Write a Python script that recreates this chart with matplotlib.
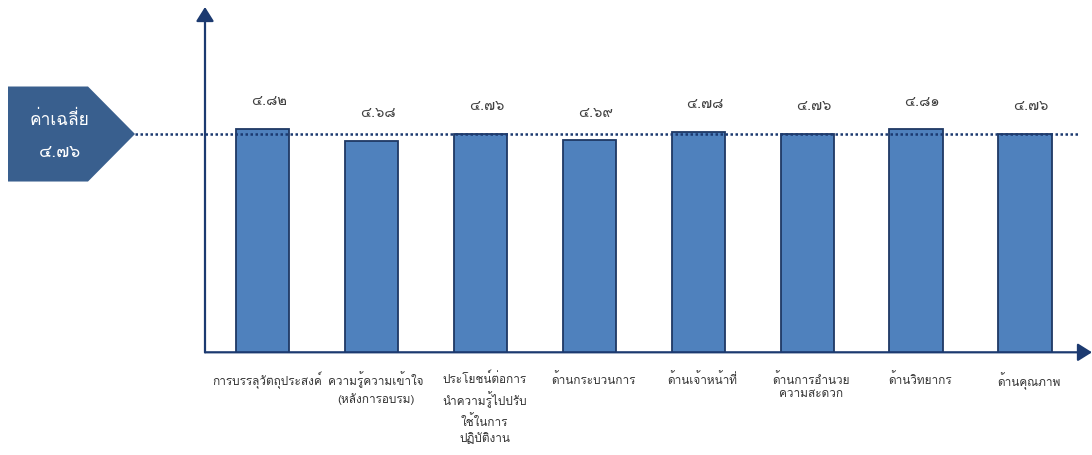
import matplotlib
matplotlib.use("Agg")
import matplotlib.pyplot as plt
import matplotlib.transforms as mtransforms
from matplotlib.patches import Polygon

plt.rcParams['font.family'] = ['Loma', 'DejaVu Sans']

# data
categories = [
    "การบรรลุวัตถุประสงค์",
    "ความรู้ความเข้าใจ\n(หลังการอบรม)",
    "ประโยชน์ต่อการ\nนำความรู้ไปปรับ\nใช้ในการ\nปฏิบัติงาน",
    "ด้านกระบวนการ",
    "ด้านเจ้าหน้าที่",
    "ด้านการอำนวย\nความสะดวก",
    "ด้านวิทยากร",
    "ด้านคุณภาพ",
]
scores = [4.82, 4.68, 4.76, 4.69, 4.78, 4.76, 4.81, 4.76]
average = 4.76
average_title = "ค่าเฉลี่ย"

thai_digits = str.maketrans("0123456789", "๐๑๒๓๔๕๖๗๘๙")
def thai_num(v):
    return ("%.2f" % v).translate(thai_digits)

navy = "#1c3a70"
bar_fill = "#4f81bd"
bar_edge = "#1f3864"
box_fill = "#395f8e"

W, H = 1092, 455
fig = plt.figure(figsize=(W / 100, H / 100), dpi=100)
ax = fig.add_axes([205 / W, 102.7 / H, (1092 - 205) / W, (352.3 - 7) / H])

x = list(range(len(scores)))
ax.bar(x, scores, width=0.49, color=bar_fill, edgecolor=bar_edge, linewidth=1.3, zorder=2)
ax.set_xlim(-0.53, 7.615)
ax.set_ylim(2.354, 6.16)
for s in ax.spines.values():
    s.set_visible(False)
ax.set_xticks([])
ax.set_yticks([])

# axis arrows
arrow = dict(arrowstyle="-|>,head_length=0.86,head_width=0.54", color=navy,
             lw=1.6, shrinkA=0, shrinkB=0, mutation_scale=10)
ax.annotate("", xy=(0, 1), xytext=(0, 0), xycoords="axes fraction", arrowprops=arrow)
ax.annotate("", xy=(1, 0), xytext=(0, 0), xycoords="axes fraction", arrowprops=arrow)

# value labels
for xi, v in zip(x, scores):
    ax.annotate(thai_num(v), xy=(xi, v), xytext=(4.5, 20), textcoords="offset points",
                ha="center", va="center", fontsize=10.5, color="#404040")

# category labels
for xi, c in zip(x, categories):
    ax.annotate(c, xy=(xi, 0), xycoords=("data", "axes fraction"), xytext=(3, -14),
                textcoords="offset points", ha="center", va="top", fontsize=8.5,
                color="#333333", linespacing=1.45)

# average line and pointer box
mix = mtransforms.blended_transform_factory(fig.transFigure, ax.transData)
ax.plot([135 / W, 1080 / W], [average, average], transform=mix, color=navy,
        lw=1.8, linestyle=(0, (1, 1)), clip_on=False, zorder=3)

half = 47.5 / 90.7
box = Polygon([(8 / W, average + half), (88 / W, average + half), (135 / W, average),
               (88 / W, average - half), (8 / W, average - half)],
              closed=True, transform=mix, facecolor=box_fill, edgecolor="none", clip_on=False)
ax.add_patch(box)
ax.text(60 / W, average + 14 / 90.7, average_title, transform=mix, ha="center", va="center",
        fontsize=12.5, color="white")
ax.text(60 / W, average - 19 / 90.7, thai_num(average), transform=mix, ha="center",
        va="center", fontsize=12.5, color="white")

fig.savefig("out.png", dpi=100)
